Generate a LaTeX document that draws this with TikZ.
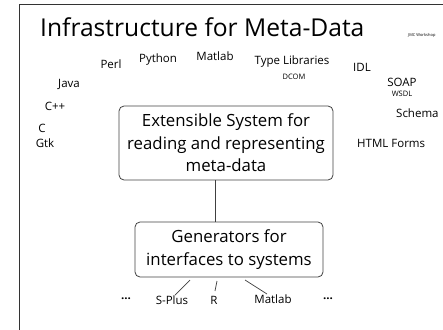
\documentclass[tikz,border=0pt]{standalone}
\usepackage{fontspec}
\setmainfont{Open Sans}
\begin{document}
\begin{tikzpicture}[x=1pt,y=-1pt,
  lbl/.style={inner sep=0pt,font=\fontsize{11.5}{13}\selectfont},
  sml/.style={inner sep=0pt,font=\fontsize{7.5}{9}\selectfont},
  mainbox/.style={draw=black!75,line width=0.8pt,rounded corners=5pt,align=center,inner sep=0pt,font=\fontsize{16.8}{22.5}\selectfont},
  conn/.style={draw=black!75,line width=0.7pt}]
\useasboundingbox (0,0) rectangle (443,329);
\draw[black!80,line width=0.9pt] (19,340) -- (19,4) -- (460,4);
\node[anchor=west,inner sep=0pt,font=\fontsize{24.6}{28}\selectfont] (title) at (40,27) {Infrastructure for Meta-Data};
\node[anchor=west,inner sep=0pt,font=\fontsize{4}{5}\selectfont] (jmc) at (408,35) {JMC Workshop};
\node[lbl] (perl) at (111,64) {Perl};
\node[lbl] (python) at (158,60) {Python};
\node[lbl] (matlab1) at (215,56) {Matlab};
\node[lbl] (typelib) at (292,62) {Type Libraries};
\node[sml] (dcom) at (294,77) {DCOM};
\node[lbl] (idl) at (362,67) {IDL};
\node[lbl] (soap) at (402,82) {SOAP};
\node[sml] (wsdl) at (402,94) {WSDL};
\node[lbl] (java) at (69,84) {Java};
\node[lbl] (cpp) at (55,106) {C++};
\node[lbl] (c) at (42,128) {C};
\node[lbl] (gtk) at (45,143) {Gtk};
\node[lbl,anchor=west] (schema) at (396,113) {Schema};
\node[lbl,anchor=west] (html) at (357,143) {HTML Forms};
\node[mainbox,minimum width=214pt,minimum height=74pt] (ext) at (226,143) {Extensible System for\\reading and representing\\meta-data};
\node[mainbox,minimum width=188pt,minimum height=55pt] (gen) at (229,249.5) {Generators for\\interfaces to systems};
\draw[conn] (ext.south -| 215,0) -- (gen.north -| 215,0);
\node[lbl,font=\fontsize{11.5}{13}\selectfont\bfseries] (dots1) at (126,299) {...};
\node[lbl] (splus) at (172,300) {S-Plus};
\node[lbl] (r) at (214,300) {R};
\node[lbl] (matlab2) at (273,299) {Matlab};
\node[lbl,font=\fontsize{11.5}{13}\selectfont\bfseries] (dots2) at (328,299) {...};
\draw[conn] (190,280) -- (175,295);
\draw[conn] (217,281) -- (215,291);
\draw[conn] (245,280) -- (267,294);
\end{tikzpicture}
\end{document}
